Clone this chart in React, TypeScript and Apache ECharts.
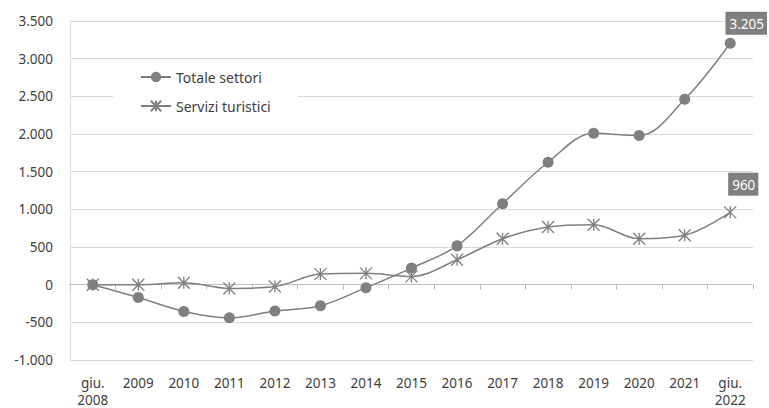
import React, { useEffect, useRef } from "react";
import * as echarts from "echarts";

const categories = [
  "giu.\n2008", "2009", "2010", "2011", "2012", "2013", "2014", "2015",
  "2016", "2017", "2018", "2019", "2020", "2021", "giu.\n2022",
];
const totaleSettori = [0, -170, -355, -440, -350, -280, -40, 220, 515, 1075, 1625, 2010, 1980, 2460, 3205];
const serviziTuristici = [0, 0, 25, -50, -25, 140, 150, 110, 330, 610, 765, 795, 610, 655, 960];
const yTicks = { min: -1000, max: 3500, interval: 500 };

const GREY = "#7f7f7f";
const TEXT = "#404040";
const FONT = "Noto Sans";

const fmt = (v: number) => {
  const s = Math.abs(Math.round(v)).toString().replace(/\B(?=(\d{3})+(?!\d))/g, ".");
  return (v < 0 ? "-" : "") + s;
};

const STAR = "path://M0,0L12,12M12,0L0,12M6,0L6,12";

function withEndLabel(values: number[], offset: number[], distance: number) {
  return values.map((v, i) =>
    i === values.length - 1
      ? {
          value: v,
          label: {
            show: true,
            position: "top",
            distance,
            offset,
            formatter: () => fmt(v),
            color: "#fff",
            backgroundColor: GREY,
            padding: [5, 3, 4, 4],
            fontSize: 13.5,
            fontFamily: FONT,
          },
        }
      : v
  );
}

export default function App() {
  const ref = useRef<HTMLDivElement>(null);
  useEffect(() => {
    if (!ref.current) return;
    const chart = echarts.init(ref.current, undefined, { renderer: "svg" });
    chart.setOption({
      animation: false,
      backgroundColor: "#fff",
      grid: { left: 70, right: 16, top: 21, bottom: 47 },
      legend: {
        orient: "vertical",
        left: 113,
        top: 62,
        padding: [8, 27, 8, 27],
        itemGap: 15,
        itemWidth: 30,
        itemHeight: 13,
        backgroundColor: "#fff",
        textStyle: { color: TEXT, fontSize: 14, fontFamily: FONT },
        data: ["Totale settori", "Servizi turistici"],
      },
      xAxis: [
        {
          type: "category",
          data: categories,
          position: "bottom",
          axisLine: { show: false, onZero: false },
          axisTick: { show: false },
          axisLabel: {
            color: TEXT,
            fontSize: 13.5,
            fontFamily: FONT,
            margin: 14,
            lineHeight: 17,
            interval: 0,
          },
        },
        {
          type: "category",
          data: categories,
          position: "top",
          axisLine: { show: true, onZero: true, lineStyle: { color: "#bfbfbf", width: 1 } },
          axisTick: { show: true, inside: true, length: 5, lineStyle: { color: "#bfbfbf" } },
          axisLabel: { show: false },
        },
      ],
      yAxis: {
        type: "value",
        min: yTicks.min,
        max: yTicks.max,
        interval: yTicks.interval,
        axisLine: { show: true, lineStyle: { color: "#d9d9d9" } },
        axisTick: { show: false },
        splitLine: { lineStyle: { color: "#d9d9d9", width: 1 } },
        axisLabel: {
          color: TEXT,
          fontSize: 13.5,
          fontFamily: FONT,
          margin: 17,
          formatter: (v: number) => fmt(v),
        },
      },
      series: [
        {
          name: "Totale settori",
          type: "line",
          smooth: 0.35,
          data: withEndLabel(totaleSettori, [16, 0], 3),
          symbol: "circle",
          symbolSize: 11,
          lineStyle: { color: GREY, width: 1.5 },
          itemStyle: { color: GREY },
          z: 3,
        },
        {
          name: "Servizi turistici",
          type: "line",
          smooth: 0.35,
          data: withEndLabel(serviziTuristici, [13, 0], 10),
          symbol: STAR,
          symbolSize: 12,
          lineStyle: { color: GREY, width: 1.5 },
          itemStyle: { color: GREY, borderColor: GREY, borderWidth: 1.3 },
          z: 3,
        },
      ],
    });
    return () => chart.dispose();
  }, []);
  return (
    <div
      ref={ref}
      style={{ position: "fixed", left: 0, top: 0, width: 769, height: 408 }}
    />
  );
}
